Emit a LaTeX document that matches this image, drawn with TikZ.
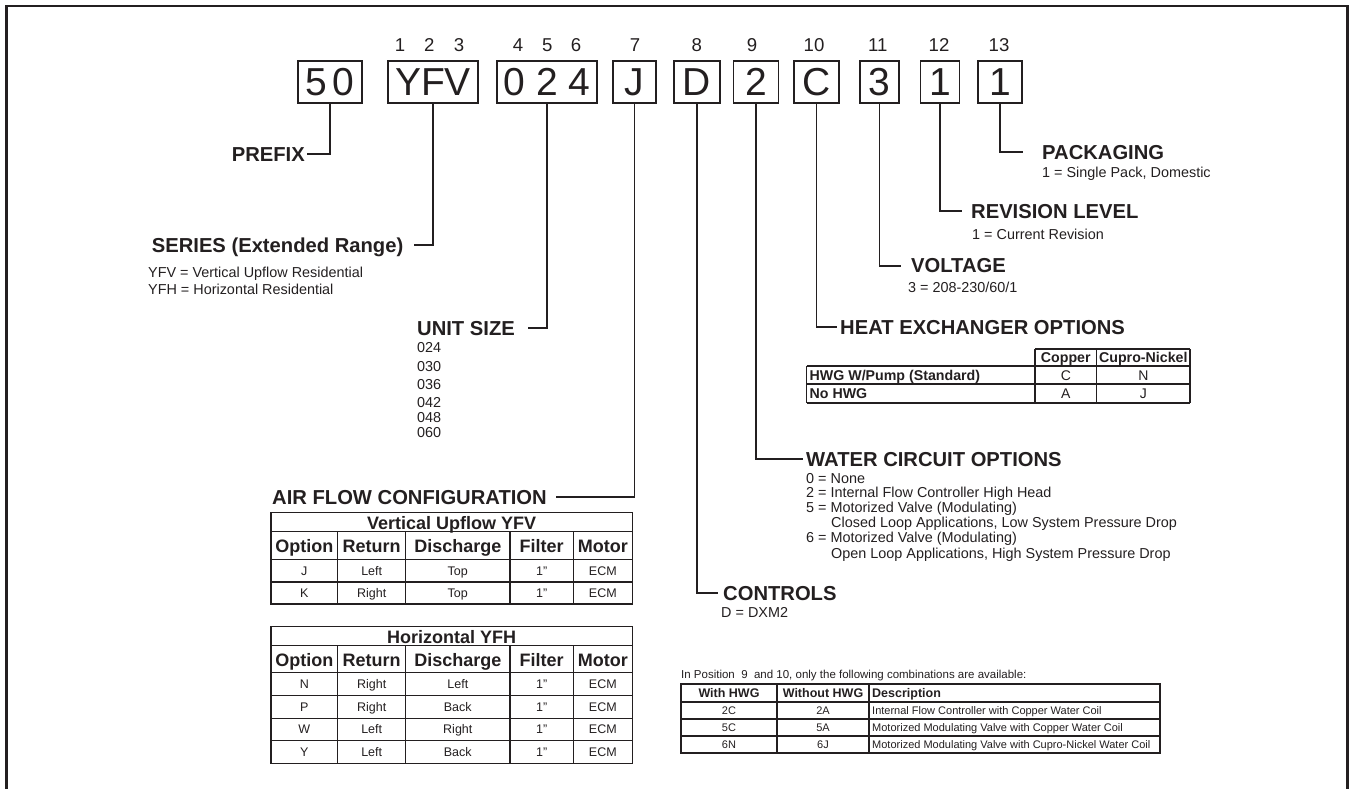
\documentclass[tikz,border=0pt]{standalone}
\usepackage{fontspec}
\setmainfont{Liberation Sans}
\definecolor{ink}{HTML}{231F20}

\begin{document}
\begin{tikzpicture}[x=1pt,y=-1pt,
        codebox/.style={draw=ink,line width=1.8pt,minimum height=42pt,inner sep=0pt,text=ink,font=\fontsize{39}{39}\selectfont},
        posnum/.style={inner sep=0pt,text=ink,font=\fontsize{18.6}{18.6}\selectfont},
        heading/.style={anchor=west,inner sep=0pt,text height=14.5pt,text depth=0pt,text=ink,font=\fontsize{20.2}{24}\selectfont\bfseries},
        subtext/.style={anchor=base west,inner sep=0pt,text=ink,font=\fontsize{14.4}{16}\selectfont},
        watertext/.style={subtext},
        lead/.style={draw=ink,line width=1.8pt},
        grid/.style={draw=ink,line width=1.3pt},
        tabhead/.style={anchor=base,inner sep=0pt,text=ink,font=\fontsize{18}{18}\selectfont\bfseries},
        tabcell/.style={anchor=base,inner sep=0pt,text=ink,font=\fontsize{12.5}{12}\selectfont},
        hxhead/.style={anchor=base,inner sep=0pt,text=ink,font=\fontsize{14.2}{14}\selectfont\bfseries},
        hxcell/.style={anchor=base,inner sep=0pt,text=ink,font=\fontsize{14}{14}\selectfont},
        combohead/.style={anchor=base,inner sep=0pt,text=ink,font=\fontsize{12.5}{12}\selectfont\bfseries},
        combocell/.style={anchor=base,inner sep=0pt,text=ink,font=\fontsize{11}{11}\selectfont}]
        \useasboundingbox (0,0) rectangle (1349,789);
        \draw[draw=ink,line width=2.5pt] (6.7,789) -- (6.7,6.2) -- (1347.5,6.2) -- (1347.5,789);

        \foreach \n/\x in {1/400,2/429.3,3/459,4/518,5/547.3,6/576,7/635,8/696.7,9/752,10/814,11/877.7,12/939,13/999}
            \node[posnum] (p\n) at (\x,45) {\n};

        \node[codebox,minimum width=64pt]  (pre)  at (330,82)    {5\kern5pt0};
        \node[codebox,minimum width=90pt]  (ser)  at (433,82)    {YFV};
        \node[codebox,minimum width=100pt] (size) at (547,82)    {0 2 4};
        \node[codebox,minimum width=43pt]  (air)  at (634.5,82)  {J};
        \node[codebox,minimum width=46pt]  (ctl)  at (697,82)    {D};
        \node[codebox,minimum width=45pt]  (wat)  at (756,82)    {2};
        \node[codebox,minimum width=45pt]  (hx)   at (816.5,82)  {C};
        \node[codebox,minimum width=39pt]  (volt) at (879.5,82)  {3};
        \node[codebox,minimum width=39pt]  (rev)  at (940,82)    {1};
        \node[codebox,minimum width=44pt]  (pack) at (1000,82)   {1};

        \node[heading,anchor=east] (prefix)    at (305,154)    {PREFIX};
        \node[heading,anchor=east] (series)    at (403.5,245)  {SERIES (Extended Range)};
        \node[heading]             (unitsize)  at (417,328)    {UNIT SIZE};
        \node[heading]             (airflow)   at (272,497)    {AIR FLOW CONFIGURATION};
        \node[heading]             (controls)  at (723,593)    {CONTROLS};
        \node[heading]             (water)     at (806,459)    {WATER CIRCUIT OPTIONS};
        \node[heading]             (hxopt)     at (840,327)    {HEAT EXCHANGER OPTIONS};
        \node[heading]             (voltage)   at (911,265.7)  {VOLTAGE};
        \node[heading]             (revision)  at (971,211)    {REVISION LEVEL};
        \node[heading]             (packaging) at (1042,152)   {PACKAGING};

        \draw[lead,shorten >=2pt]  (pre.south)  |- (prefix.east);
        \draw[lead,shorten >=10pt] (ser.south)  |- (series.east);
        \draw[lead,shorten >=13pt] (size.south) |- (unitsize.east);
        \draw[lead,shorten >=9pt]  (air.south)  |- (airflow.east);
        \draw[lead,shorten >=5pt]  (ctl.south)  |- (controls.west);
        \draw[lead,shorten >=3pt]  (wat.south)  |- (water.west);
        \draw[lead,shorten >=3pt]  (hx.south)   |- (hxopt.west);
        \draw[lead,shorten >=10pt] (volt.south) |- (voltage.west);
        \draw[lead,shorten >=9pt]  (rev.south)  |- (revision.west);
        \draw[lead,shorten >=19pt] (pack.south) |- (packaging.west);

        \node[subtext] (pack1) at (1042,177.5) {1 = Single Pack, Domestic};
        \node[subtext] (rev1)  at (972,239)    {1 = Current Revision};
        \node[subtext] (volt1) at (908,292)    {3 = 208-230/60/1};
        \node[subtext] (ser1)  at (148,277)    {YFV = Vertical Upflow Residential};
        \node[subtext] (ser2)  at (148,294)    {YFH = Horizontal Residential};
        \node[subtext] (ctl1)  at (721,617)    {D = DXM2};
        \foreach \s/\y in {024/352,030/371,036/389,042/407,048/422,060/437}
            \node[subtext] (s\s) at (417,\y) {\s};

        \node[watertext] (w0)  at (806,483)   {0 = None};
        \node[watertext] (w2)  at (806,497.5) {2 = Internal Flow Controller High Head};
        \node[watertext] (w5)  at (806,512)   {5 = Motorized Valve (Modulating)};
        \node[watertext] (w5b) at (831,527)   {Closed Loop Applications, Low System Pressure Drop};
        \node[watertext] (w6)  at (806,542.5) {6 = Motorized Valve (Modulating)};
        \node[watertext] (w6b) at (831,558)   {Open Loop Applications, High System Pressure Drop};

        \draw[grid] (271,512.7) rectangle (632.3,604);
        \foreach \y in {531.7,559.3,582} \draw[grid] (271,\y) -- (632.3,\y);
        \foreach \x in {337.7,405.7,510,573.3} \draw[grid] (\x,531.7) -- (\x,604);
        \node[tabhead] (vtitle) at (451.7,529.5) {Vertical Upflow YFV};
        \foreach \t/\x [count=\i] in {Option/304.3,Return/371.7,Discharge/457.8,Filter/541.7,Motor/602.8}
            \node[tabhead] (vh\i) at (\x,552.5) {\t};
        \foreach \a/\b/\c/\y in {J/Left/Top/575,K/Right/Top/597.3} {
            \node[tabcell] (v\a1) at (304.3,\y) {\a};
            \node[tabcell] (v\a2) at (371.7,\y) {\b};
            \node[tabcell] (v\a3) at (457.8,\y) {\c};
            \node[tabcell] (v\a4) at (541.7,\y) {1”};
            \node[tabcell] (v\a5) at (602.8,\y) {ECM};
        }

        \draw[grid] (271,626.7) rectangle (632.3,763.3);
        \foreach \y in {645.7,672.7,695.7,718.3,740.7} \draw[grid] (271,\y) -- (632.3,\y);
        \foreach \x in {337.7,405.7,510,573.3} \draw[grid] (\x,645.7) -- (\x,763.3);
        \node[tabhead] (htitle) at (451.7,643) {Horizontal YFH};
        \foreach \t/\x [count=\i] in {Option/304.3,Return/371.7,Discharge/457.8,Filter/541.7,Motor/602.8}
            \node[tabhead] (hh\i) at (\x,666.5) {\t};
        \foreach \a/\b/\c/\y in {N/Right/Left/688.5,P/Right/Back/711.3,W/Left/Right/733.8,Y/Left/Back/756.3} {
            \node[tabcell] (h\a1) at (304.3,\y) {\a};
            \node[tabcell] (h\a2) at (371.7,\y) {\b};
            \node[tabcell] (h\a3) at (457.8,\y) {\c};
            \node[tabcell] (h\a4) at (541.7,\y) {1”};
            \node[tabcell] (h\a5) at (602.8,\y) {ECM};
        }

        \draw[grid] (1035,349) -- (1190,349);
        \foreach \y in {366,384,403} \draw[grid] (806.7,\y) -- (1190,\y);
        \draw[grid] (806.7,366) -- (806.7,403);
        \foreach \x in {1035,1096.7,1190} \draw[grid] (\x,349) -- (\x,403);
        \node[hxhead] (hxcu) at (1065.8,362.6) {Copper};
        \node[hxhead] (hxcn) at (1143.3,362.6) {Cupro-Nickel};
        \node[hxhead,anchor=base west] (hxr1) at (809.5,380) {HWG W/Pump (Standard)};
        \node[hxhead,anchor=base west] (hxr2) at (809.5,398.6) {No HWG};
        \node[hxcell] (hxc1) at (1065.8,380)   {C};
        \node[hxcell] (hxn1) at (1143.3,380)   {N};
        \node[hxcell] (hxc2) at (1065.8,398.6) {A};
        \node[hxcell] (hxn2) at (1143.3,398.6) {J};

        \node[combocell,anchor=base west,font=\fontsize{11.5}{11}\selectfont] (note) at (681,678)
            {In Position~~9~~and 10, only the following combinations are available:};
        \draw[grid] (681,684) rectangle (1160,753);
        \foreach \y in {702,719,736} \draw[grid] (681,\y) -- (1160,\y);
        \foreach \x in {777,869} \draw[grid] (\x,684) -- (\x,753);
        \node[combohead] (cwith) at (729,697.5) {With HWG};
        \node[combohead] (cwout) at (823,697.5) {Without HWG};
        \node[combohead,anchor=base west] (cdesc) at (872,697.5) {Description};
        \foreach \a/\b/\d/\y in {2C/2A/Internal Flow Controller with Copper Water Coil/714.5,
                5C/5A/Motorized Modulating Valve with Copper Water Coil/731.5,
                6N/6J/Motorized Modulating Valve with Cupro-Nickel Water Coil/748.5} {
            \node[combocell] (c\a) at (729,\y) {\a};
            \node[combocell] (c\b) at (823,\y) {\b};
            \node[combocell,anchor=base west] (d\a) at (872,\y) {\d};
        }
    \end{tikzpicture}
\end{document}
